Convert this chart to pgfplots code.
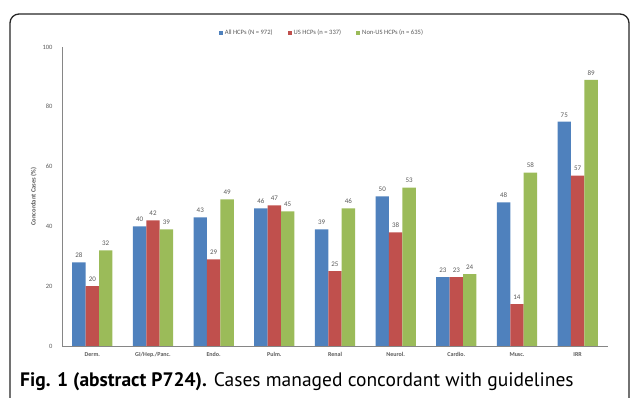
\documentclass[border=0pt]{standalone}
\usepackage{fontspec}
\setmainfont{Carlito}
\newfontfamily\capfont{PT Sans}
\usepackage{pgfplots}
\pgfplotsset{compat=1.18}
\definecolor{xlblue}{HTML}{4F81BD}
\definecolor{xlred}{HTML}{C0504D}
\definecolor{xlgreen}{HTML}{9BBB59}
\definecolor{axgrey}{HTML}{868686}
\definecolor{txtgrey}{HTML}{595959}
\begin{document}
\begin{tikzpicture}[x=1pt,y=1pt]
\path[use as bounding box] (0,0) rectangle (630,398);
\begin{scope}
\clip (0,0) rectangle (630,398);
\draw[line width=1.3pt, black!85, rounded corners=9pt] (10,-20) -- (10,384) -- (629,384) -- (629,-20);
\end{scope}
\begin{axis}[
    at={(62pt,52pt)}, anchor=south west,
    scale only axis, width=546pt, height=299pt,
    ybar=0pt, bar width=13.4pt,
    xmin=-0.5, xmax=8.5, ymin=0, ymax=100,
    xtick=data,
    xticklabels={Derm., GI/Hep./Panc., Endo., Pulm., Renal, Neurol., Cardio., Musc., IRR},
    ytick={0,20,...,100},
    axis lines*=left,
    axis line style={axgrey, line width=0.8pt, -},
    x axis line style={-}, y axis line style={-},
    major tick length=0pt,
    xticklabel style={font=\fontsize{6}{7}\selectfont\bfseries, text=txtgrey},
    yticklabel style={font=\fontsize{6.5}{7}\selectfont, text=txtgrey},
    /pgf/number format/assume math mode=true,
    xtick style={draw=none}, ytick style={draw=none},
    ylabel={Concordant Cases (\%)},
    ylabel style={font=\fontsize{6.5}{7}\selectfont\bfseries, text=txtgrey},
    ylabel shift=-1pt,
    ytick pos=left,
    yticklabel shift=6pt,
    xticklabel shift=3pt,
    nodes near coords,
    nodes near coords style={font=\fontsize{7}{8}\selectfont, text=txtgrey, yshift=1pt},
    legend style={at={(0.476,1.047)}, anchor=center, draw=none, fill=none,
        legend columns=3, font=\fontsize{6.6}{7}\selectfont, text=txtgrey,
        /tikz/every even column/.append style={column sep=13pt}},
    legend image code/.code={\fill[#1] (0pt,-2pt) rectangle (4pt,2pt);},
    clip=false,
]
\addplot[fill=xlblue, draw=none] coordinates {(0,28) (1,40) (2,43) (3,46) (4,39) (5,50) (6,23) (7,48) (8,75)};
\addplot[fill=xlred, draw=none] coordinates {(0,20) (1,42) (2,29) (3,47) (4,25) (5,38) (6,23) (7,14) (8,57)};
\addplot[fill=xlgreen, draw=none] coordinates {(0,32) (1,39) (2,49) (3,45) (4,46) (5,53) (6,24) (7,58) (8,89)};
\legend{All HCPs (N = 972), US HCPs (n = 337), Non-US HCPs (n = 635)}
\end{axis}
\node[anchor=west, font=\capfont\fontsize{19.5}{21}\selectfont, inner sep=0pt] at (20,16) {\textbf{Fig. 1 (abstract P724).} Cases managed concordant with guidelines};
\end{tikzpicture}
\end{document}
